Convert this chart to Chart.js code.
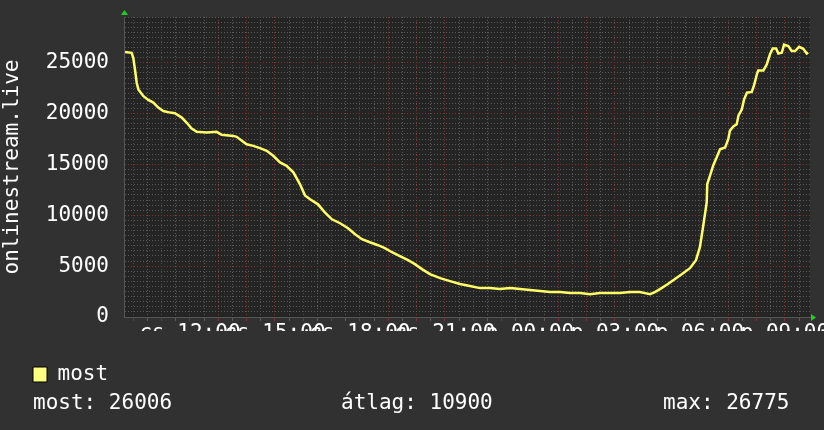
<!DOCTYPE html>
<html>
<head>
<meta charset="utf-8">
<script src="https://cdn.jsdelivr.net/npm/chart.js@4.4.1/dist/chart.umd.min.js"></script>
<style>
  html, body { margin: 0; padding: 0; background: #313131; }
  #wrap { position: relative; width: 824px; height: 430px; }
  #chart { position: absolute; left: 0; top: 0; }
  .stat { position: absolute; top: 392px; font: 21px/21px "DejaVu Sans Mono", monospace; color: #fff; white-space: pre; }
</style>
</head>
<body>
<div id="wrap">
  <canvas id="chart" width="824" height="430"></canvas>
</div>
<script>
// hours since midnight thursday (24 = friday 00:00)
var hours = [
  9.71, 9.94, 10.00, 10.06, 10.12, 10.18, 10.35, 10.53, 10.71, 10.88,
  11.06, 11.30, 11.47, 11.71, 11.88, 12.06, 12.24, 12.59, 12.94, 13.12,
  13.53, 13.65, 14.00, 14.24, 14.47, 14.71, 14.94, 15.18, 15.41, 15.65,
  15.88, 16.06, 16.24, 16.52, 16.76, 17.01, 17.30, 17.58, 17.83, 18.07,
  18.35, 18.64, 18.88, 19.13, 19.41, 19.70, 19.94, 20.19, 20.47, 20.83,
  21.18, 21.53, 21.88, 22.24, 22.59, 22.94, 23.30, 23.65, 24.00, 24.36,
  24.71, 25.06, 25.42, 25.77, 26.12, 26.47, 26.83, 27.18, 27.53, 27.88,
  28.06, 28.24, 28.41, 28.59, 28.87, 29.12, 29.37, 29.65, 29.86, 30.00,
  30.11, 30.24, 30.26, 30.36, 30.47, 30.62, 30.71, 30.89, 31.00, 31.06,
  31.18, 31.30, 31.36, 31.48, 31.56, 31.66, 31.83, 31.91, 32.01, 32.06,
  32.24, 32.36, 32.47, 32.57, 32.69, 32.77, 32.89, 32.97, 33.12, 33.24,
  33.36, 33.50, 33.65, 33.77, 33.82
];
var viewers = [
  26050, 25980, 25490, 24340, 23040, 22380, 21740, 21350, 21080, 20590,
  20260, 20100, 20030, 19610, 19120, 18530, 18210, 18140, 18210, 17910,
  17810, 17720, 16990, 16830, 16600, 16340, 15850, 15200, 14870, 14220,
  13070, 11960, 11570, 11080, 10290, 9610, 9220, 8730, 8140, 7650,
  7350, 7060, 6770, 6370, 5980, 5590, 5200, 4710, 4220, 3820,
  3530, 3240, 3040, 2840, 2840, 2745, 2840, 2745, 2650, 2550,
  2450, 2450, 2350, 2350, 2250, 2350, 2350, 2350, 2450, 2450,
  2350, 2250, 2450, 2745, 3240, 3730, 4220, 4800, 5590, 6860,
  8820, 11275, 13070, 13920, 14900, 15880, 16500, 16670, 17480, 18330,
  18730, 18950, 19800, 20420, 21400, 22060, 22130, 22770, 23850, 24250,
  24250, 24830, 25810, 26400, 26400, 25910, 25980, 26775, 26640, 26150,
  26150, 26570, 26370, 25910, 26006
];
var labelHours = [12, 15, 18, 21, 24, 27, 30, 33];
var labelTexts = ["cs 12:00", "cs 15:00", "cs 18:00", "cs 21:00", "p 00:00", "p 03:00", "p 06:00", "p 09:00"];
var seriesName = "most";
var statNames = ["most", "átlag", "max"];
var statValues = [26006, 10900, 26775];

var statLeft = [33, 341, 663];
var lineColor = "#ffff66";
var swatchColor = "#ffff80";
var majorGrid = "#7a3434";
var minorGrid = "#5a5a5a";
var font = { family: "DejaVu Sans Mono", size: 21 };

statNames.forEach(function (name, i) {
  var d = document.createElement("div");
  d.className = "stat";
  d.style.left = statLeft[i] + "px";
  d.textContent = name + ": " + statValues[i];
  document.getElementById("wrap").appendChild(d);
});

var decor = {
  id: "decor",
  beforeDraw: function (chart) {
    var a = chart.chartArea, ctx = chart.ctx;
    ctx.save();
    ctx.fillStyle = "#242424";
    ctx.fillRect(a.left, a.top, a.right - a.left, a.bottom - a.top);
    ctx.restore();
  },
  afterDraw: function (chart) {
    var a = chart.chartArea, ctx = chart.ctx;
    ctx.save();
    ctx.fillStyle = "#22cc22";
    ctx.beginPath(); // arrow on top of y axis
    ctx.moveTo(a.left - 3, a.top - 2);
    ctx.lineTo(a.left + 4, a.top - 2);
    ctx.lineTo(a.left + 0.5, a.top - 7);
    ctx.fill();
    ctx.beginPath(); // arrow at end of x axis
    ctx.moveTo(a.right + 1, a.bottom - 3);
    ctx.lineTo(a.right + 1, a.bottom + 4);
    ctx.lineTo(a.right + 6, a.bottom + 0.5);
    ctx.fill();
    ctx.restore();
  }
};

new Chart("chart", {
  type: "line",
  data: {
    datasets: [{
      label: seriesName,
      data: hours.map(function (h, i) { return { x: h, y: viewers[i] }; }),
      borderColor: lineColor,
      backgroundColor: swatchColor,
      borderWidth: 2.5,
      pointRadius: 0,
      tension: 0
    }]
  },
  options: {
    responsive: false,
    animation: false,
    layout: { padding: { top: 17, right: 14, left: 0, bottom: 35 } },
    plugins: {
      tooltip: { enabled: false },
      legend: {
        position: "bottom",
        align: "start",
        labels: {
          font: font, color: "#fff", boxWidth: 14, boxHeight: 15, padding: 33,
          generateLabels: function () {
            return [{ text: seriesName, fillStyle: swatchColor, strokeStyle: "#000", lineWidth: 1, fontColor: "#fff", datasetIndex: 0 }];
          }
        }
      }
    },
    scales: {
      x: {
        type: "linear",
        min: 9.672,
        max: 33.886,
        afterFit: function (s) { s.height = 14; s.paddingLeft = 0; s.paddingRight = 0; },
        ticks: {
          stepSize: 0.5, includeBounds: false, autoSkip: false, maxRotation: 0, minRotation: 0,
          padding: 0, color: "#fff", font: font,
          callback: function (v) {
            var i = labelHours.indexOf(v);
            return i >= 0 ? labelTexts[i] : "";
          }
        },
        grid: {
          tickLength: 4,
          color: function (c) {
            return Number.isInteger(c.tick.value) ? majorGrid : minorGrid;
          }
        },
        border: { color: "#555", dash: [1, 2] }
      },
      y: {
        min: 0,
        max: 29500,
        afterFit: function (s) { s.width = 124; s.paddingTop = 0; s.paddingBottom = 0; },
        ticks: {
          stepSize: 500, autoSkip: false, padding: 15, color: "#fff", font: font,
          callback: function (v) { return v % 5000 === 0 ? String(v) : ""; }
        },
        grid: {
          drawTicks: false,
          color: function (c) {
            var v = c.tick.value;
            if (v === 0) return "rgba(0,0,0,0)";
            return v % 5000 === 0 ? majorGrid : minorGrid;
          }
        },
        border: { color: "#555", dash: [1, 2] },
        title: { display: true, text: "onlinestream.live", color: "#fff", font: font, padding: 0 }
      }
    }
  },
  plugins: [decor]
});
</script>
</body>
</html>
